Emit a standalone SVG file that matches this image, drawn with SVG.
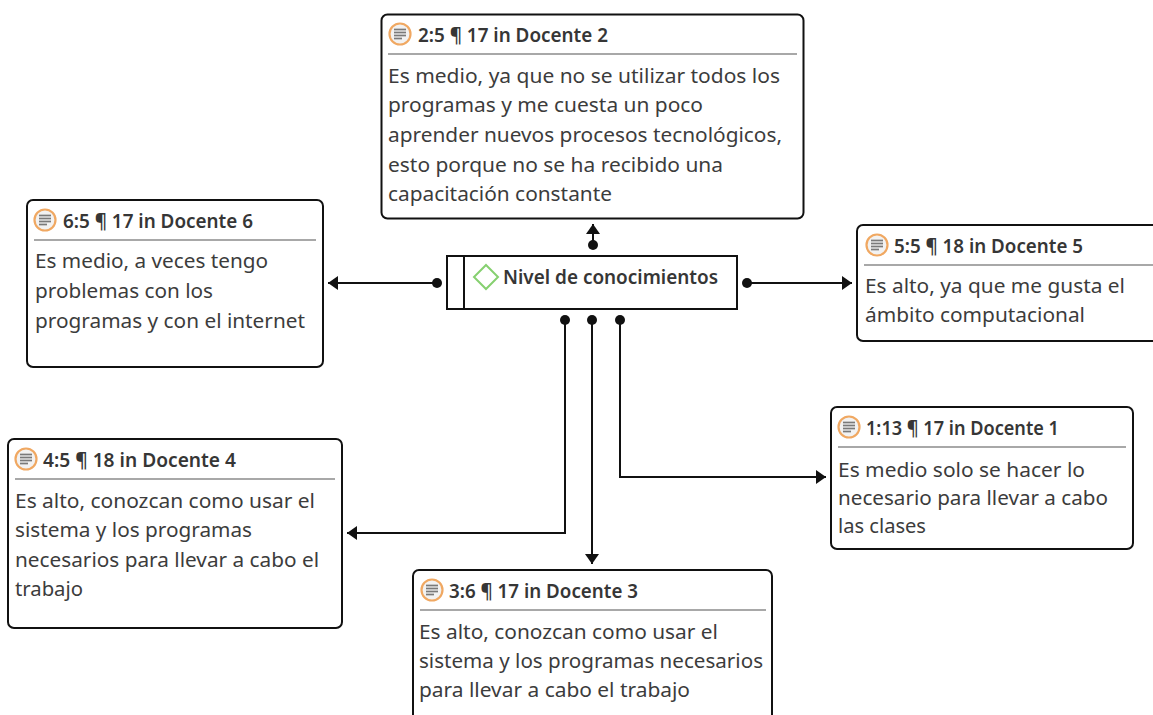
<svg xmlns="http://www.w3.org/2000/svg" width="1153" height="715" viewBox="0 0 1153 715">
<style>
.box{fill:#fff;stroke:#111;stroke-width:2}
.sep{stroke:#a8a8a8;stroke-width:2}
.hd{font-family:"Noto Sans","Open Sans",sans-serif;font-weight:600;font-size:19.5px;fill:#363636}
.bd{font-family:"Noto Sans","Open Sans",sans-serif;font-size:20.5px;fill:#3c3c3c}
.icon-c{fill:#f2f2f2;stroke:#f0a862;stroke-width:2.2}
.icon-l{stroke:#7a7a7a;stroke-width:1.7}
.conn{fill:none;stroke:#111;stroke-width:2;marker-start:url(#dot);marker-end:url(#arr)}
</style>
<defs>
<marker id="arr" viewBox="0 0 10 14" refX="10" refY="7" markerWidth="10" markerHeight="14" markerUnits="userSpaceOnUse" orient="auto"><path d="M0,0 L10,7 L0,14 z" fill="#111"/></marker>
<marker id="dot" viewBox="0 0 10 10" refX="5" refY="5" markerWidth="10" markerHeight="10" markerUnits="userSpaceOnUse" orient="auto"><circle cx="5" cy="5" r="5" fill="#111"/></marker>
<g id="qicon">
<circle cx="0" cy="0" r="10.5" class="icon-c"/>
<line x1="-6" y1="-4.5" x2="6" y2="-4.5" class="icon-l"/>
<line x1="-6" y1="-1.5" x2="6" y2="-1.5" class="icon-l"/>
<line x1="-6" y1="1.5" x2="6" y2="1.5" class="icon-l"/>
<line x1="-6" y1="4.5" x2="2" y2="4.5" class="icon-l"/>
</g>
</defs>

<g id="connectors">
<path class="conn" d="M593,245 V224"/>
<path class="conn" d="M437,283 H328"/>
<path class="conn" d="M747,283 H852"/>
<path class="conn" d="M565,320 V533 H347"/>
<path class="conn" d="M592,320 V564"/>
<path class="conn" d="M620,320 V477 H826"/>
</g>

<g id="center">
<rect x="447" y="256" width="290" height="53" fill="#fff" stroke="#111" stroke-width="2"/>
<line x1="464" y1="256" x2="464" y2="309" stroke="#111" stroke-width="2"/>
<path d="M486,265 L498,277 L486,289 L474,277 z" fill="none" stroke="#86d070" stroke-width="2"/>
<text x="503" y="284" class="hd" textLength="215" lengthAdjust="spacingAndGlyphs">Nivel de conocimientos</text>
</g>

<g id="docente2">
<rect class="box" x="381.5" y="14.5" width="422" height="204" rx="6"/>
<use href="#qicon" x="400" y="34"/>
<text x="418" y="42" class="hd" textLength="190" lengthAdjust="spacingAndGlyphs">2:5 ¶ 17 in Docente 2</text>
<line class="sep" x1="388" y1="54" x2="797" y2="54"/>
<text x="388" y="83" class="bd" textLength="392" lengthAdjust="spacingAndGlyphs">Es medio, ya que no se utilizar todos los</text>
<text x="388" y="112" class="bd" textLength="315" lengthAdjust="spacingAndGlyphs">programas y me cuesta un poco</text>
<text x="388" y="142" class="bd" textLength="394" lengthAdjust="spacingAndGlyphs">aprender nuevos procesos tecnológicos,</text>
<text x="388" y="172" class="bd" textLength="335" lengthAdjust="spacingAndGlyphs">esto porque no se ha recibido una</text>
<text x="388" y="201" class="bd" textLength="224" lengthAdjust="spacingAndGlyphs">capacitación constante</text>
</g>

<g id="docente6">
<rect class="box" x="27" y="200" width="296" height="167" rx="6"/>
<use href="#qicon" x="45" y="220"/>
<text x="63" y="228" class="hd" textLength="190" lengthAdjust="spacingAndGlyphs">6:5 ¶ 17 in Docente 6</text>
<line class="sep" x1="34" y1="240" x2="316" y2="240"/>
<text x="35" y="268" class="bd" textLength="233" lengthAdjust="spacingAndGlyphs">Es medio, a veces tengo</text>
<text x="35" y="298" class="bd" textLength="178" lengthAdjust="spacingAndGlyphs">problemas con los</text>
<text x="35" y="328" class="bd" textLength="270" lengthAdjust="spacingAndGlyphs">programas y con el internet</text>
</g>

<g id="docente5">
<rect class="box" x="857" y="225" width="310" height="116" rx="6"/>
<use href="#qicon" x="877" y="245"/>
<text x="894" y="253" class="hd" textLength="189" lengthAdjust="spacingAndGlyphs">5:5 ¶ 18 in Docente 5</text>
<line class="sep" x1="864" y1="265" x2="1153" y2="265"/>
<text x="865" y="293" class="bd" textLength="260" lengthAdjust="spacingAndGlyphs">Es alto, ya que me gusta el</text>
<text x="865" y="322" class="bd" textLength="220" lengthAdjust="spacingAndGlyphs">ámbito computacional</text>
</g>

<g id="docente1">
<rect class="box" x="831" y="407" width="302" height="142" rx="6"/>
<use href="#qicon" x="849" y="427"/>
<text x="866" y="435" class="hd" textLength="193" lengthAdjust="spacingAndGlyphs">1:13 ¶ 17 in Docente 1</text>
<line class="sep" x1="838" y1="447" x2="1126" y2="447"/>
<text x="838" y="477" class="bd" textLength="247" lengthAdjust="spacingAndGlyphs">Es medio solo se hacer lo</text>
<text x="838" y="505" class="bd" textLength="270" lengthAdjust="spacingAndGlyphs">necesario para llevar a cabo</text>
<text x="838" y="533" class="bd" textLength="88" lengthAdjust="spacingAndGlyphs">las clases</text>
</g>

<g id="docente4">
<rect class="box" x="8" y="439" width="334" height="189" rx="6"/>
<use href="#qicon" x="26" y="459"/>
<text x="43" y="467" class="hd" textLength="193" lengthAdjust="spacingAndGlyphs">4:5 ¶ 18 in Docente 4</text>
<line class="sep" x1="15" y1="479" x2="335" y2="479"/>
<text x="15" y="508" class="bd" textLength="300" lengthAdjust="spacingAndGlyphs">Es alto, conozcan como usar el</text>
<text x="15" y="537" class="bd" textLength="237" lengthAdjust="spacingAndGlyphs">sistema y los programas</text>
<text x="15" y="567" class="bd" textLength="304" lengthAdjust="spacingAndGlyphs">necesarios para llevar a cabo el</text>
<text x="15" y="596" class="bd" textLength="68" lengthAdjust="spacingAndGlyphs">trabajo</text>
</g>

<g id="docente3">
<rect class="box" x="413" y="570" width="359" height="160" rx="6"/>
<use href="#qicon" x="432" y="590"/>
<text x="449" y="598" class="hd" textLength="189" lengthAdjust="spacingAndGlyphs">3:6 ¶ 17 in Docente 3</text>
<line class="sep" x1="420" y1="610" x2="766" y2="610"/>
<text x="419" y="639" class="bd" textLength="299" lengthAdjust="spacingAndGlyphs">Es alto, conozcan como usar el</text>
<text x="419" y="668" class="bd" textLength="344" lengthAdjust="spacingAndGlyphs">sistema y los programas necesarios</text>
<text x="419" y="697" class="bd" textLength="271" lengthAdjust="spacingAndGlyphs">para llevar a cabo el trabajo</text>
</g>
</svg>
